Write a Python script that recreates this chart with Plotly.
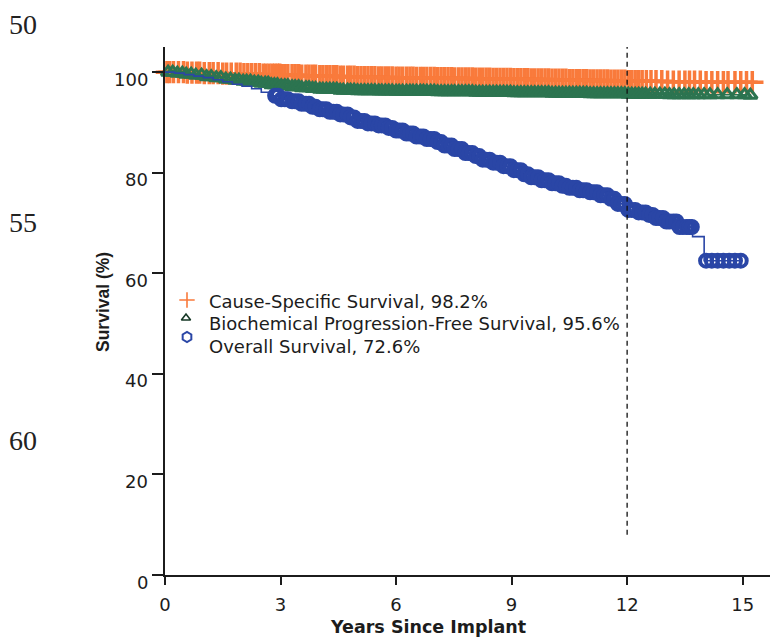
import numpy as np
import plotly.graph_objects as go

# ---- Kaplan-Meier estimates: years since implant vs. survival (%) ----
css_years = [0, 0.5, 1.0, 1.5, 2.0, 2.5, 3.0, 3.5, 4.0, 4.5, 5.0, 5.5, 6.0, 6.5,
             7.0, 7.5, 8.0, 8.5, 9.0, 9.5, 10.0, 10.5, 11.0, 11.5, 12.0, 13.0,
             14.0, 15.3]
css_surv = [100, 99.9, 99.8, 99.7, 99.6, 99.5, 99.4, 99.3, 99.2, 99.1, 99.0,
            98.95, 98.9, 98.85, 98.8, 98.75, 98.7, 98.65, 98.6, 98.55, 98.5,
            98.42, 98.35, 98.28, 98.2, 98.1, 98.0, 98.0]

bpfs_years = [0, 0.25, 0.5, 0.75, 1.0, 1.25, 1.5, 1.75, 2.0, 2.25, 2.5, 2.75,
              3.0, 3.25, 3.5, 3.75, 4.0, 4.5, 5.0, 5.5, 6.0, 7.0, 8.0, 9.0,
              10.0, 11.0, 12.0, 13.0, 14.0, 15.2]
bpfs_surv = [100, 99.8, 99.6, 99.4, 99.1, 98.9, 98.6, 98.4, 98.2, 98.0, 97.8,
             97.5, 97.3, 97.1, 96.9, 96.75, 96.6, 96.4, 96.3, 96.25, 96.2, 96.1,
             96.0, 95.9, 95.8, 95.7, 95.6, 95.5, 95.5, 95.4]

os_years = [0, 0.25, 0.5, 0.75, 1.0, 1.25, 1.5, 1.75, 2.0, 2.25, 2.5, 2.75,
            3.0, 3.25, 3.5, 3.75, 4.0, 4.25, 4.5, 4.75, 5.0, 5.25, 5.5, 5.75,
            6.0, 6.25, 6.5, 6.75, 7.0, 7.25, 7.5, 7.75, 8.0, 8.25, 8.5, 8.75,
            9.0, 9.25, 9.5, 9.75, 10.0, 10.25, 10.5, 10.75, 11.0, 11.25, 11.5,
            11.75, 12.0, 12.25, 12.5, 12.75, 13.0, 13.3, 13.7, 14.0, 15.0]
os_surv = [100, 99.8, 99.5, 99.2, 98.9, 98.5, 98.1, 97.6, 97.2, 96.7, 96.0, 95.3,
           94.6, 94.2, 93.7, 93.1, 92.6, 92.1, 91.6, 91.0, 90.3, 89.8, 89.4, 88.9,
           88.4, 87.8, 87.2, 86.7, 86.1, 85.4, 84.7, 83.9, 83.3, 82.6, 82.0, 81.3,
           80.5, 79.7, 79.1, 78.5, 77.9, 77.4, 77.0, 76.5, 76.1, 75.5, 74.8,
           73.8, 72.6, 72.1, 71.6, 71.0, 70.3, 69.2, 67.3, 62.5, 62.5]

# ---- censored follow-up times (years) ----
followup_censor_years = [
    3.02, 3.11, 3.19, 3.3, 3.38, 3.47, 3.55, 3.66, 3.74, 3.83, 3.91, 4.02, 4.1,
    4.19, 4.28, 4.37, 4.46, 4.55, 4.63, 4.74, 4.82, 4.91, 5.0, 5.09, 5.18, 5.27,
    5.36, 5.45, 5.55, 5.63, 5.72, 5.81, 5.9, 6.0, 6.08, 6.17, 6.27, 6.36, 6.44,
    6.53, 6.63, 6.71, 6.8, 6.9, 6.99, 7.08, 7.17, 7.26, 7.35, 7.44, 7.52, 7.62,
    7.71, 7.8, 7.89, 7.98, 8.07, 8.16, 8.25, 8.34, 8.43, 8.52, 8.61, 8.7, 8.79,
    8.88, 8.97, 9.06, 9.15, 9.24, 9.33, 9.42, 9.51, 9.6, 9.69, 9.78, 9.87, 9.96,
    10.05, 10.14, 10.23, 10.32, 10.41, 10.5, 10.59, 10.68, 10.77, 10.86, 10.95,
    11.04, 11.13, 11.22, 11.31, 11.4, 11.49, 11.58, 11.67, 11.76, 11.85, 11.94,
    12.03, 12.12, 12.21, 12.3, 12.39]

css_censor_early = [0.05, 0.12, 0.22, 0.35, 0.48, 0.58, 0.7, 0.82, 0.9, 1.02,
                    1.15, 1.25, 1.38, 1.5, 1.6, 1.72, 1.85, 1.95, 2.05, 2.15,
                    2.25, 2.35, 2.45, 2.55, 2.62, 2.7, 2.78, 2.85, 2.92, 2.98]
css_censor_late = [12.5, 12.62, 12.75, 12.9, 13.05, 13.2, 13.35, 13.5, 13.62,
                   13.75, 13.9, 14.05, 14.2, 14.35, 14.5, 14.62, 14.8, 14.95,
                   15.1, 15.25]

bpfs_censor_early = [0.08, 0.2, 0.32, 0.45, 0.55, 0.68, 0.8, 0.95, 1.08, 1.2,
                     1.33, 1.45, 1.58, 1.7, 1.82, 1.92, 2.03, 2.12, 2.22, 2.32,
                     2.42, 2.5, 2.6, 2.68, 2.76, 2.84, 2.92]
bpfs_censor_late = [12.48, 12.6, 12.72, 12.85, 12.98, 13.1, 13.22, 13.35, 13.48,
                    13.6, 13.72, 13.85, 14.0, 14.15, 14.35, 14.6, 14.85, 15.05, 15.2]

os_censor_early = [2.86, 2.93]
os_censor_late = [12.48, 12.57, 12.66, 12.75, 12.84, 12.93, 13.02, 13.1, 13.2,
                  13.28, 13.36, 13.45, 13.55, 13.62, 13.68, 14.05, 14.2, 14.35,
                  14.5, 14.65, 14.8, 14.95]

series_labels = ["Cause-Specific Survival", "Biochemical Progression-Free Survival",
                 "Overall Survival"]
twelve_year_rates = [98.2, 95.6, 72.6]

x_ticks = [0, 3, 6, 9, 12, 15]
y_ticks = [0, 20, 40, 60, 80, 100]
line_numbers = ["50", "55", "60"]

ORANGE = "#F97A3B"
GREEN = "#2C7450"
BLUE = "#2A46A6"
INK = "#1c1c1c"

# plot-area geometry (pixels) used for placing the key and margin numbers
PLOT_L, PLOT_W, PLOT_BOTTOM, PLOT_H = 165, 605, 575, 528


def px_to_paper(px, py):
    return (px - PLOT_L) / PLOT_W, (PLOT_BOTTOM - py) / PLOT_H


def surv_at(times, surv, t):
    """Step-function value of a KM curve at time t."""
    idx = np.searchsorted(np.asarray(times), np.asarray(t), side="right") - 1
    return np.asarray(surv)[np.clip(idx, 0, len(surv) - 1)]


fig = go.Figure()

curves = [
    (css_years, css_surv, css_censor_early + followup_censor_years + css_censor_late,
     ORANGE, dict(symbol="cross-thin-open", size=16, line=dict(width=3.5, color=ORANGE))),
    (bpfs_years, bpfs_surv, bpfs_censor_early + followup_censor_years + bpfs_censor_late,
     GREEN, dict(symbol="triangle-up-open", size=12, line=dict(width=3, color=GREEN))),
    (os_years, os_surv, os_censor_early + followup_censor_years + os_censor_late,
     BLUE, dict(symbol="circle-open", size=12, line=dict(width=4, color=BLUE))),
]

for yrs, srv, cens, col, mk in curves:
    fig.add_trace(go.Scatter(x=yrs, y=srv, mode="lines", line_shape="hv",
                             line=dict(color=col, width=1.6), showlegend=False,
                             hoverinfo="skip", cliponaxis=False))
    fig.add_trace(go.Scatter(x=cens, y=surv_at(yrs, srv, cens), mode="markers",
                             marker=dict(color=col, **mk),
                             showlegend=False, cliponaxis=False))

# key: symbols on an overlay axis spanning the paper, labels as annotations
key_symbols = [
    dict(symbol="cross-thin-open", size=11, color=ORANGE,
         line=dict(width=1.6, color=ORANGE)),
    dict(symbol="triangle-up-open", size=8, color="#163826",
         line=dict(width=1.6, color="#163826")),
    dict(symbol="hexagon-open", size=10, color=BLUE,
         line=dict(width=2, color=BLUE)),
]
key_symbol_px = [(187, 300), (186, 318), (187, 337)]
key_text_px = [(207, 301), (207, 323), (207, 346)]

for mk, (sx, sy) in zip(key_symbols, key_symbol_px):
    kx, ky = px_to_paper(sx, sy)
    fig.add_trace(go.Scatter(x=[kx], y=[ky], mode="markers", marker=mk,
                             xaxis="x2", yaxis="y2", showlegend=False,
                             hoverinfo="skip", cliponaxis=False))

annotations = []
for label, rate, (tx, ty) in zip(series_labels, twelve_year_rates, key_text_px):
    kx, ky = px_to_paper(tx, ty)
    annotations.append(dict(x=kx, y=ky, xref="paper", yref="paper",
                            text=f"{label}, {rate}%", showarrow=False,
                            xanchor="left", yanchor="middle",
                            font=dict(family="DejaVu Sans", size=18, color=INK)))

# 12-year reference line
fig.add_shape(type="line", x0=12, x1=12, y0=8, y1=105, xref="x", yref="y",
              line=dict(color="#111", width=1.3, dash="5px,4px"))

for v in y_ticks:
    annotations.append(dict(x=-0.024, xref="paper", y=v, yref="y", text=str(v),
                            xanchor="right", yanchor="middle", yshift=-7,
                            showarrow=False,
                            font=dict(family="DejaVu Sans", size=18, color=INK)))
tx, ty = px_to_paper(428, 627)
annotations.append(dict(x=tx, xref="paper", y=ty, yref="paper",
                        text="<b>Years Since Implant</b>", showarrow=False,
                        xanchor="center", yanchor="middle",
                        font=dict(family="DejaVu Sans", size=17.5, color=INK)))
tx, ty = px_to_paper(103, 302)
annotations.append(dict(x=tx, xref="paper", y=ty, yref="paper",
                        text="<b>Survival (%)</b>", textangle=-90, showarrow=False,
                        xanchor="center", yanchor="middle",
                        font=dict(family="Liberation Sans", size=17.5, color=INK)))
for txt, py in zip(line_numbers, [25, 222, 440]):
    tx, ty = px_to_paper(23, py)
    annotations.append(dict(x=tx, xref="paper", y=ty, yref="paper", text=txt,
                            showarrow=False, xanchor="center", yanchor="middle",
                            font=dict(family="Liberation Serif", size=28, color="#222")))

fig.update_layout(
    width=770, height=638,
    margin=dict(l=PLOT_L, r=0, t=47, b=638 - PLOT_BOTTOM),
    paper_bgcolor="white", plot_bgcolor="white",
    showlegend=False,
    annotations=annotations,
    xaxis=dict(range=[0, 15.71], tickvals=x_ticks, showgrid=False, zeroline=False,
               showline=True, linecolor=INK, linewidth=1.5,
               ticks="outside", ticklen=8, tickwidth=1.5, tickcolor=INK,
               ticklabelstandoff=5,
               tickfont=dict(family="DejaVu Sans", size=18, color=INK)),
    yaxis=dict(range=[0, 105], tickvals=y_ticks, showgrid=False, zeroline=False,
               showline=True, linecolor=INK, linewidth=1.5,
               ticks="outside", ticklen=11, tickwidth=1.5, tickcolor=INK,
               showticklabels=False),
    xaxis2=dict(domain=[0, 1], range=[0, 1], overlaying="x", anchor="y2",
                visible=False, fixedrange=True),
    yaxis2=dict(domain=[0, 1], range=[0, 1], overlaying="y", anchor="x2",
                visible=False, fixedrange=True),
)

fig.write_html("out.html")
